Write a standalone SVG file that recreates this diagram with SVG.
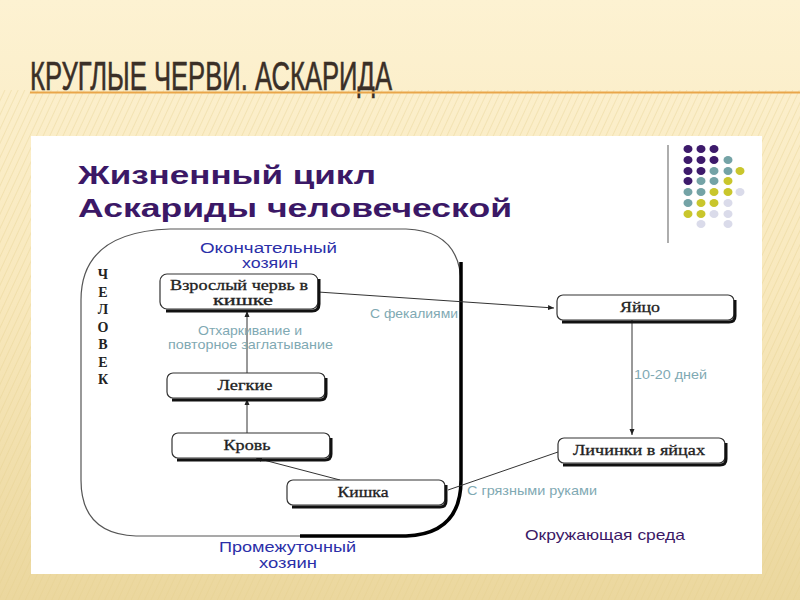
<svg xmlns="http://www.w3.org/2000/svg" width="800" height="600" viewBox="0 0 800 600">
<defs>
<linearGradient id="bg" x1="0" y1="0" x2="0" y2="1">
<stop offset="0" stop-color="#FDF2D2"/>
<stop offset="0.5" stop-color="#F8E8BC"/>
<stop offset="1" stop-color="#EBD79E"/>
</linearGradient>
<pattern id="stripes" width="6" height="6" patternUnits="userSpaceOnUse" patternTransform="rotate(25)">
<rect width="6" height="6" fill="none"/>
<line x1="0" y1="0" x2="0" y2="6" stroke="#E6CF8E" stroke-width="1.5" opacity="0.5"/>
</pattern>
<marker id="arr" markerWidth="7" markerHeight="7" refX="6" refY="3.5" orient="auto" markerUnits="userSpaceOnUse">
<path d="M0,1 L6,3.5 L0,6 Z" fill="#222"/>
</marker>
<style>
.node rect.box{fill:#fff;stroke:#333;stroke-width:1.2}
.node path.sh{fill:none;stroke:#111;stroke-width:3}
.nt{font-family:"Liberation Serif","DejaVu Serif",serif;font-size:15px;fill:#222;text-anchor:middle;stroke:#222;stroke-width:0.3}
.conn{stroke:#333;stroke-width:1;fill:none}
.lbl{font-family:"Liberation Sans",Arial,sans-serif;font-size:13px;fill:#7FA9B3}
.blue{font-family:"Liberation Sans",Arial,sans-serif;font-size:14px;fill:#2B2FA8}
.vl{font-family:"Liberation Serif",serif;font-size:14px;font-weight:bold;fill:#222;text-anchor:middle}
.dP{fill:#3D1A6B}.dT{fill:#74A3A6}.dY{fill:#C9C62C}.dL{fill:#DADBEA}
</style>
</defs>
<rect width="800" height="600" fill="url(#bg)"/>
<rect x="0" y="90" width="800" height="510" fill="url(#stripes)"/>
<text x="30" y="90" font-family="'Liberation Sans Narrow','Liberation Sans',Arial,sans-serif" font-size="41" fill="#3A2F27" stroke="#3A2F27" stroke-width="0.6" textLength="362" lengthAdjust="spacingAndGlyphs">КРУГЛЫЕ ЧЕРВИ. АСКАРИДА</text>
<line x1="30" y1="92.5" x2="800" y2="92.5" stroke="#E9A64A" stroke-width="2"/>
<rect x="31" y="136" width="731" height="438" fill="#fff"/>
<g id="heading">
<text x="78" y="184" font-family="'Liberation Sans',Arial,sans-serif" font-weight="bold" font-size="26" fill="#3B1866" textLength="298" lengthAdjust="spacingAndGlyphs">Жизненный цикл</text>
<text x="78" y="217" font-family="'Liberation Sans',Arial,sans-serif" font-weight="bold" font-size="26" fill="#3B1866" textLength="434" lengthAdjust="spacingAndGlyphs">Аскариды человеческой</text>
</g>
<g id="decor">
<line x1="668" y1="145" x2="668" y2="243" stroke="#777" stroke-width="1.2"/>
<g>
<ellipse class="dP" cx="688" cy="149" rx="4.5" ry="4"/><ellipse class="dP" cx="701" cy="149" rx="4.5" ry="4"/><ellipse class="dP" cx="714" cy="149" rx="4.5" ry="4"/>
<ellipse class="dP" cx="688" cy="160" rx="4.5" ry="4"/><ellipse class="dP" cx="701" cy="160" rx="4.5" ry="4"/><ellipse class="dP" cx="714" cy="160" rx="4.5" ry="4"/><ellipse class="dT" cx="728" cy="160" rx="4.5" ry="4"/>
<ellipse class="dP" cx="688" cy="171" rx="4.5" ry="4"/><ellipse class="dP" cx="701" cy="171" rx="4.5" ry="4"/><ellipse class="dT" cx="714" cy="171" rx="4.5" ry="4"/><ellipse class="dT" cx="728" cy="171" rx="4.5" ry="4"/><ellipse class="dY" cx="740" cy="171" rx="4.5" ry="4"/>
<ellipse class="dP" cx="688" cy="181" rx="4.5" ry="4"/><ellipse class="dT" cx="701" cy="181" rx="4.5" ry="4"/><ellipse class="dT" cx="714" cy="181" rx="4.5" ry="4"/><ellipse class="dY" cx="728" cy="181" rx="4.5" ry="4"/>
<ellipse class="dT" cx="688" cy="192" rx="4.5" ry="4"/><ellipse class="dT" cx="701" cy="192" rx="4.5" ry="4"/><ellipse class="dY" cx="714" cy="192" rx="4.5" ry="4"/><ellipse class="dY" cx="728" cy="192" rx="4.5" ry="4"/><ellipse class="dL" cx="740" cy="192" rx="4.5" ry="4"/>
<ellipse class="dT" cx="688" cy="203" rx="4.5" ry="4"/><ellipse class="dY" cx="701" cy="203" rx="4.5" ry="4"/><ellipse class="dY" cx="714" cy="203" rx="4.5" ry="4"/><ellipse class="dL" cx="728" cy="203" rx="4.5" ry="4"/>
<ellipse class="dY" cx="688" cy="214" rx="4.5" ry="4"/><ellipse class="dY" cx="701" cy="214" rx="4.5" ry="4"/><ellipse class="dL" cx="714" cy="214" rx="4.5" ry="4"/><ellipse class="dL" cx="728" cy="214" rx="4.5" ry="4"/>
<ellipse class="dL" cx="701" cy="224" rx="4.5" ry="4"/><ellipse class="dL" cx="728" cy="224" rx="4.5" ry="4"/>
</g>
</g>
<g id="human-host">
<path d="M81,300 Q81,232 170,229 L406,229 Q461,231 461,285 L461,480 Q461,534 406,536 L136,536 Q81,534 81,480 Z" fill="none" stroke="#555" stroke-width="1.2"/>
<path d="M461,262 L461,480 Q461,534 406,536 L300,536" fill="none" stroke="#000" stroke-width="3.5"/>
<text class="vl" x="103" y="279">Ч</text>
<text class="vl" x="103" y="297">Е</text>
<text class="vl" x="103" y="314">Л</text>
<text class="vl" x="103" y="332">О</text>
<text class="vl" x="103" y="349">В</text>
<text class="vl" x="103" y="367">Е</text>
<text class="vl" x="103" y="384">К</text>
<text class="blue" x="200" y="253" textLength="137" lengthAdjust="spacingAndGlyphs">Окончательный</text>
<text class="blue" x="242" y="268" textLength="56" lengthAdjust="spacingAndGlyphs">хозяин</text>
<text class="blue" x="219" y="552" textLength="137" lengthAdjust="spacingAndGlyphs">Промежуточный</text>
<text class="blue" x="259" y="568" textLength="58" lengthAdjust="spacingAndGlyphs">хозяин</text>
</g>
<g id="connectors">
<line class="conn" x1="318" y1="292" x2="554" y2="308" marker-end="url(#arr)"/>
<line class="conn" x1="632" y1="320" x2="632" y2="435" marker-end="url(#arr)"/>
<line class="conn" x1="558" y1="452" x2="448" y2="490"/>
<line class="conn" x1="340" y1="480" x2="256" y2="458" marker-end="url(#arr)"/>
<line class="conn" x1="247" y1="433" x2="247" y2="399" marker-end="url(#arr)"/>
<line class="conn" x1="247" y1="373" x2="247" y2="311" marker-end="url(#arr)"/>
<text class="lbl" x="370" y="318" textLength="88" lengthAdjust="spacingAndGlyphs">С фекалиями</text>
<text class="lbl" x="634" y="379" textLength="73" lengthAdjust="spacingAndGlyphs">10-20 дней</text>
<text class="lbl" x="467" y="495" textLength="130" lengthAdjust="spacingAndGlyphs">С грязными руками</text>
<text class="lbl" x="198" y="335" textLength="104" lengthAdjust="spacingAndGlyphs">Отхаркивание и</text>
<text class="lbl" x="168" y="349" textLength="165" lengthAdjust="spacingAndGlyphs">повторное заглатывание</text>
</g>
<g id="adult" class="node">
<rect class="box" x="160" y="274" width="158" height="35" rx="7"/>
<path class="sh" d="M319,279 L319,304 Q319,311 312,311 L166,311"/>
<text class="nt" x="239" y="290" textLength="138" lengthAdjust="spacingAndGlyphs">Взрослый червь в</text>
<text class="nt" x="243" y="305" textLength="60" lengthAdjust="spacingAndGlyphs">кишке</text>
</g>
<g id="lungs" class="node">
<rect class="box" x="167" y="373" width="158" height="25" rx="6"/>
<path class="sh" d="M326,378 L326,394 Q326,400 320,400 L172,400"/>
<text class="nt" x="245" y="390" textLength="55" lengthAdjust="spacingAndGlyphs">Легкие</text>
</g>
<g id="blood" class="node">
<rect class="box" x="172" y="433" width="158" height="25" rx="6"/>
<path class="sh" d="M331,438 L331,454 Q331,460 325,460 L177,460"/>
<text class="nt" x="247" y="450" textLength="47" lengthAdjust="spacingAndGlyphs">Кровь</text>
</g>
<g id="intestine" class="node">
<rect class="box" x="287" y="480" width="158" height="25" rx="6"/>
<path class="sh" d="M446,485 L446,501 Q446,507 440,507 L292,507"/>
<text class="nt" x="363" y="497" textLength="51" lengthAdjust="spacingAndGlyphs">Кишка</text>
</g>
<g id="egg" class="node">
<rect class="box" x="557" y="295" width="177" height="25" rx="6"/>
<path class="sh" d="M735,300 L735,316 Q735,322 729,322 L562,322"/>
<text class="nt" x="640" y="312" textLength="40" lengthAdjust="spacingAndGlyphs">Яйцо</text>
</g>
<g id="larvae" class="node">
<rect class="box" x="558" y="438" width="167" height="25" rx="6"/>
<path class="sh" d="M726,443 L726,459 Q726,465 720,465 L563,465"/>
<text class="nt" x="639" y="455" textLength="132" lengthAdjust="spacingAndGlyphs">Личинки в яйцах</text>
</g>
<text x="525" y="540" font-family="'Liberation Sans',Arial,sans-serif" font-size="15" fill="#3B1866" textLength="160" lengthAdjust="spacingAndGlyphs">Окружающая среда</text>
</svg>
